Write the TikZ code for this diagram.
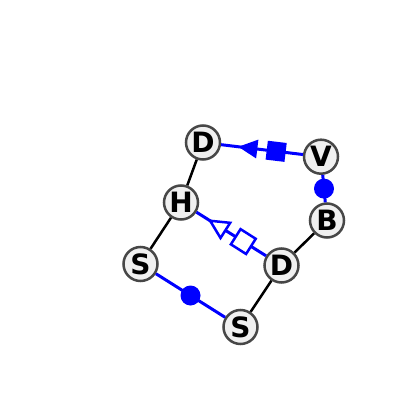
\documentclass[tikz,border=0pt]{standalone}
\usepackage{fontspec}
\setmainfont{DejaVu Sans}
\usetikzlibrary{calc}
\begin{document}
\begin{tikzpicture}[x=1pt,y=-1pt,
  res/.style={circle, draw=black!72, fill=black!6, line width=2.5pt, minimum size=34pt, inner sep=0pt,
    font=\fontsize{28}{28}\selectfont\bfseries},
  bond/.style={line width=2.5pt, black},
  link/.style={line width=3pt, blue},
  dot/.style={circle, fill=blue, inner sep=0pt, minimum size=20pt},
  openmark/.style={draw=blue, fill=white, line width=2.5pt, line join=miter},
  fullmark/.style={fill=blue}]
\useasboundingbox (0,0) rectangle (400,401);
% residues
\node[res] (d1) at (203,142.5) {D};
\node[res] (v)  at (321,156.7) {V};
\node[res] (b)  at (327,220.5) {B};
\node[res] (h)  at (181,202.5) {H};
\node[res] (d2) at (281.5,265.5) {D};
\node[res] (s1) at (140.5,264) {S};
\node[res] (s2) at (240.5,327) {S};
% black bonds
\draw[bond] (d1) -- (h);
\draw[bond] (h) -- (s1);
\draw[bond] (b) -- (d2);
\draw[bond] (d2) -- (s2);
% blue links
\draw[link] (v) -- node[dot] (vb) {} (b);
\draw[link] (s1) -- node[dot] (ss) {} (s2);
\draw[link] (d1) -- (v);
\draw[link] (h) -- (d2);
% marks on D--V
\begin{scope}[shift={($(d1)!0.30!(v)$)}, rotate=-6.86]
  \fill[fullmark] (0,0) -- (19,-9.5) -- (19,9.5) -- cycle;
\end{scope}
\begin{scope}[shift={($(d1)!0.62!(v)$)}, rotate=-6.86]
  \fill[fullmark] (-9.5,-9.5) rectangle (9.5,9.5);
\end{scope}
% marks on H--D
\begin{scope}[shift={($(h)!0.29!(d2)$)}, rotate=-32.4]
  \draw[openmark] (0,0) -- (18,-9) -- (18,9) -- cycle;
\end{scope}
\begin{scope}[shift={($(h)!0.62!(d2)$)}, rotate=-32.4]
  \draw[openmark] (-9,-9) rectangle (9,9);
\end{scope}
\end{tikzpicture}
\end{document}
